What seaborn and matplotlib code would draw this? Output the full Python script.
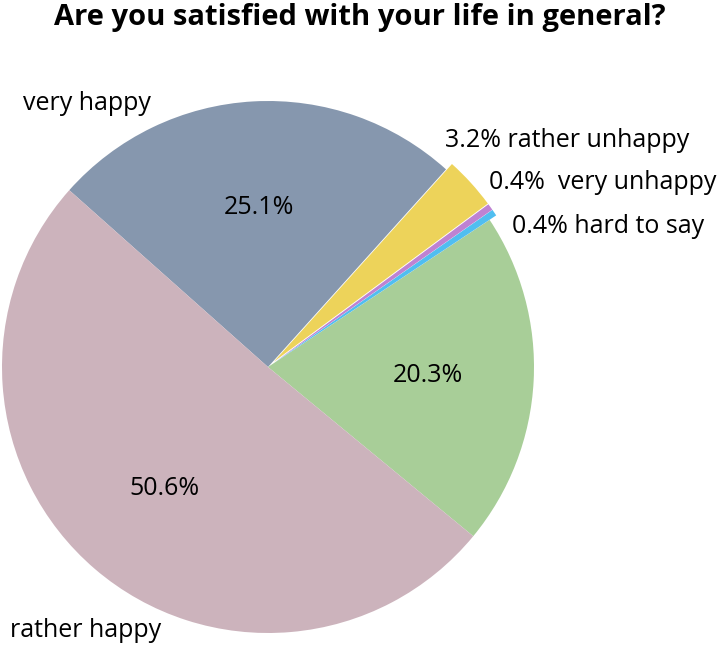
import numpy as np
import seaborn as sns
import matplotlib.pyplot as plt

# data (counterclockwise order, starting from the green slice)
categories = ["", "hard to say", " very unhappy", "rather unhappy", "very happy", "rather happy"]
shares = [20.3, 0.4, 0.4, 3.2, 25.1, 50.6]
slice_colors = ["#a8ce98", "#50bef0", "#be82d2", "#edd35a", "#8697ae", "#ccb3bc"]
small_slices = [False, True, True, True, False, False]

# where the outside labels sit (pie radius = 1)
label_pos = [(0.0, 0.0), (0.917, 0.530), (0.831, 0.692), (0.665, 0.853), (-0.921, 0.992), (-0.970, -0.992)]

sns.set_theme(style="white")
plt.rcParams["font.family"] = ["Open Sans", "DejaVu Sans"]

W, H = 718, 645
fig = plt.figure(figsize=(W / 100, H / 100), dpi=100)

# pie centre (268, 367) px, radius 266 px
cx, cy, r = 268, 367, 266
lim = 1.1
side = 2 * r * lim
ax = fig.add_axes([(cx - side / 2) / W, (H - cy - side / 2) / H, side / W, side / H])

palette = sns.color_palette(slice_colors)
explode = [0.03 if s else 0 for s in small_slices]


def pct_text(p):
    return f"{p:.1f}%" if p > 5 else ""


wedges, texts, autotexts = ax.pie(
    shares, colors=palette, startangle=-39.5, counterclock=True,
    explode=explode, autopct=pct_text, pctdistance=0.6,
    textprops=dict(fontsize=18, color="#000000"),
    wedgeprops=dict(linewidth=0),
)
ax.set_xlim(-lim, lim)
ax.set_ylim(-lim, lim)
ax.set_aspect("equal")
ax.axis("off")

for name, share, small, (lx, ly) in zip(categories, shares, small_slices, label_pos):
    if not name:
        continue
    txt = f"{share:.1f}% {name}" if small else name
    ax.text(lx, ly, txt, ha="left", va="center", fontsize=18, color="#000000")

fig.text(360 / W, 1 - 17 / H, "Are you satisfied with your life in general?",
         ha="center", va="center", fontsize=21, fontweight="bold", color="#000000")

fig.savefig("out.png", dpi=100)
